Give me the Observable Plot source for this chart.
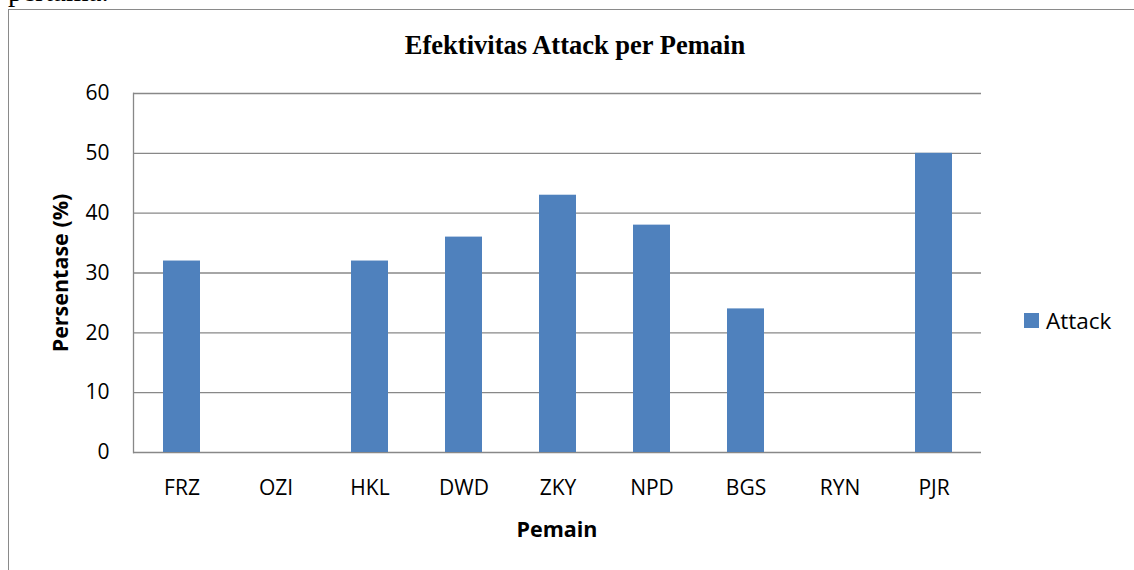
<!DOCTYPE html>
<html>
<head>
<meta charset="utf-8">
<script src="https://cdn.jsdelivr.net/npm/d3@7"></script>
<script src="https://cdn.jsdelivr.net/npm/@observablehq/plot@0.6"></script>
<style>
  html, body { margin: 0; padding: 0; background: #fff; }
  #wrap { position: relative; width: 1134px; height: 570px; overflow: hidden; font-family: "Open Sans", sans-serif; }
  #doc { position: absolute; left: 8px; top: -23px; font-family: "Liberation Serif", serif; font-size: 29px; line-height: 1; color: #000; }
  #box { position: absolute; left: 8px; top: 9px; width: 1200px; height: 700px; border: 1.5px solid #8a8a8a; box-sizing: border-box; }
  #title { position: absolute; left: 0; width: 1150px; top: 30px; text-align: center; font-family: "Liberation Serif", serif; font-weight: bold; font-size: 26.5px; line-height: 1.2; color: #000; }
  #chart { position: absolute; left: 0; top: 0; }
  #ylab { position: absolute; left: 59px; top: 273px; transform: translate(-50%, -50%) rotate(-90deg); font-weight: bold; font-size: 21.5px; white-space: nowrap; }
  #xlab { position: absolute; left: 557px; top: 528px; transform: translate(-50%, -50%); font-weight: bold; font-size: 21.5px; }
  #legend { position: absolute; left: 1024px; top: 305px; display: flex; align-items: center; font-size: 22.5px; }
  #legend .sw { width: 15px; height: 15px; background: #4F81BD; margin-right: 7px; }
</style>
</head>
<body>
<div id="wrap">
  <div id="doc">pertama.</div>
  <div id="box"></div>
  <div id="chart"></div>
  <div id="title">Efektivitas Attack per Pemain</div>
  <div id="ylab">Persentase (%)</div>
  <div id="xlab">Pemain</div>
  <div id="legend"><div class="sw"></div><span>Attack</span></div>
</div>
<script>
const players = ["FRZ", "OZI", "HKL", "DWD", "ZKY", "NPD", "BGS", "RYN", "PJR"];
const attack = [32, 0, 32, 36, 43, 38, 24, 0, 50];
const yTicks = [0, 10, 20, 30, 40, 50, 60];

const data = players.map((p, i) => ({player: p, value: attack[i]}));

const chart = Plot.plot({
  width: 1134,
  height: 570,
  marginLeft: 133,
  marginRight: 153,
  marginTop: 93,
  marginBottom: 118,
  style: {fontFamily: "Open Sans, sans-serif", fontSize: "20px", color: "#000", background: "transparent"},
  x: {domain: players, paddingInner: 0.61, paddingOuter: 0.305, label: null},
  y: {domain: [0, 60], label: null},
  marks: [
    Plot.gridY(yTicks, {stroke: "#888", strokeOpacity: 1, strokeWidth: 1.3}),
    Plot.frame({anchor: "left", stroke: "#888", strokeWidth: 1.3}),
    Plot.barY(data, {x: "player", y: "value", fill: "#4F81BD"}),
    Plot.axisY(yTicks, {tickSize: 0, tickPadding: 24, fontSize: 21, label: null}),
    Plot.axisX({tickSize: 0, tickPadding: 28, fontSize: 21, label: null})
  ]
});
document.getElementById("chart").appendChild(chart);
</script>
</body>
</html>
